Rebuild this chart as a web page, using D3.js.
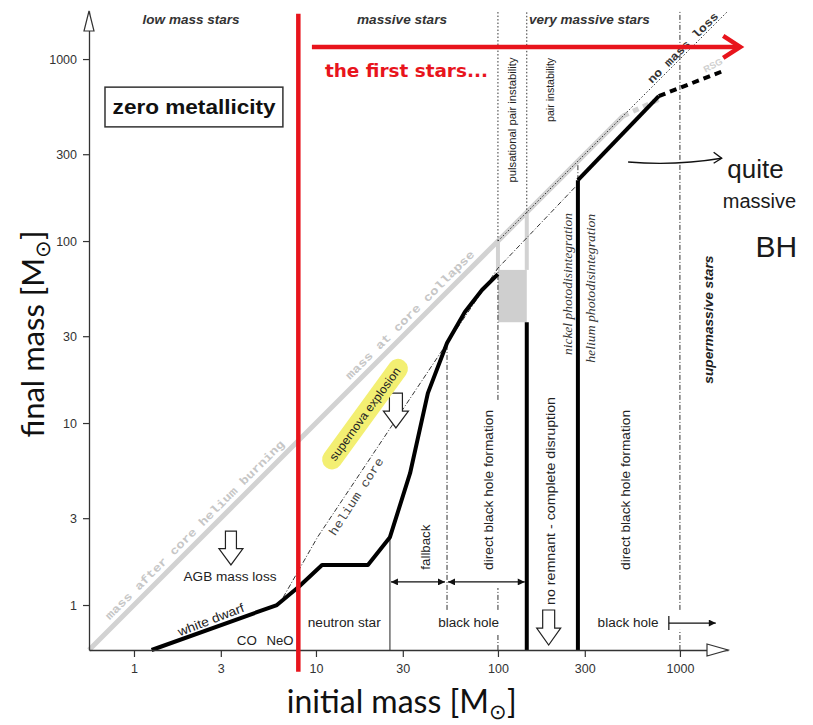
<!doctype html>
<html>
<head>
<meta charset="utf-8">
<title>final mass vs initial mass</title>
<script src="https://cdn.jsdelivr.net/npm/d3@7"></script>
<style>
  body { margin: 0; background: #fff; }
</style>
</head>
<body>
<script>
// ticks (solar masses)
const xTicks = [1, 3, 10, 30, 100, 300, 1000];
const yTicks = [1, 3, 10, 30, 100, 300, 1000];

// final remnant mass vs initial mass (thick black)
const remnantInit  = [1.25, 6.1, 8.05, 10.8, 19.3, 25.5, 32.9, 41.2, 52.5, 65.8, 81.7, 100];
const remnantFinal = [0.566, 1.0, 1.26, 1.66, 1.66, 2.36, 5.3, 14.6, 27.5, 40.7, 53.8, 65.8];
const bhInit  = [275, 765];
const bhFinal = [216, 626];
const bhDashInit  = [765, 1780];
const bhDashFinal = [626, 870];

// collapse walls of the pair instability gap
const wallInit = [144, 275];
const wallTop  = [35.8, 216];

// helium core mass (dash dot)
const heliumInit  = [6.6, 8.17, 10.2, 52.5, 100, 272];
const heliumFinal = [1.1, 1.6, 2.36, 27.5, 71, 203];

// mass at core collapse (light grey)
const collapseInit  = [0.566, 487];
const collapseFinal = [0.566, 487];
const rsgInit  = [487, 765];
const rsgFinal = [487, 600];

// pulsational pair instability box
const gapInit  = [100, 144];
const gapFinal = [35.8, 69.4];

// guides: [initial mass, from, to]
const dashDotGuides = [
  [52.5, 0.94, 27.5],
  [100, 13.4, 69.4],
  [100, 0.94, 1.24],
  [100, 0.566, 0.70],
  [275, 216, 268],
  [1000, 0.94, 1836],
  [1000, 0.566, 0.73]
];
const dottedGuides = [[100, 100, 1836], [144, 142, 1836]];
const greyDrops = [[100, 69.4, 100], [144, 69.4, 142]];

const firstStarsMass = 8;

const W = 813, H = 725;
const svg = d3.select("body").append("svg")
  .attr("width", W).attr("height", H)
  .style("font-family", "'Liberation Sans', Arial, sans-serif");

const x = d3.scaleLog().domain([0.566, 1837]).range([89, 728]);
const y = d3.scaleLog().domain([0.566, 1837]).range([650, 11]);

const line = d3.line().x(d => x(d[0])).y(d => y(d[1]));
const zip = (a, b) => a.map((v, i) => [v, b[i]]);

const plot = svg.append("g");

// grey box + grey track
plot.append("rect")
  .attr("x", x(gapInit[0])).attr("width", x(gapInit[1]) - x(gapInit[0]))
  .attr("y", y(gapFinal[1])).attr("height", y(gapFinal[0]) - y(gapFinal[1]))
  .attr("fill", "#cfcfcf");

plot.append("path").attr("d", line(zip(collapseInit, collapseFinal)))
  .attr("stroke", "#d2d2d2").attr("stroke-width", 5).attr("fill", "none");
plot.append("path").attr("d", line(zip(rsgInit, rsgFinal)))
  .attr("stroke", "#d2d2d2").attr("stroke-width", 5).attr("fill", "none")
  .attr("stroke-dasharray", "6,5");
greyDrops.forEach(g => {
  plot.append("line").attr("x1", x(g[0])).attr("x2", x(g[0]))
    .attr("y1", y(g[1])).attr("y2", y(g[2]))
    .attr("stroke", "#d2d2d2").attr("stroke-width", 4);
});

// guides
dashDotGuides.forEach(g => {
  plot.append("line").attr("x1", x(g[0])).attr("x2", x(g[0]))
    .attr("y1", y(g[1])).attr("y2", y(g[2]))
    .attr("stroke", "#333").attr("stroke-width", 1)
    .attr("stroke-dasharray", "5,2,1,2");
});
dottedGuides.forEach(g => {
  plot.append("line").attr("x1", x(g[0])).attr("x2", x(g[0]))
    .attr("y1", y(g[1])).attr("y2", y(g[2]))
    .attr("stroke", "#333").attr("stroke-width", 1)
    .attr("stroke-dasharray", "1.5,2");
});
// no mass loss diagonal
plot.append("path").attr("d", line([[100, 100], [1836, 1836]]))
  .attr("stroke", "#333").attr("stroke-width", 1).attr("fill", "none")
  .attr("stroke-dasharray", "1.5,2");

// helium core
plot.append("path").attr("d", line(zip(heliumInit, heliumFinal)))
  .attr("stroke", "#333").attr("stroke-width", 1).attr("fill", "none")
  .attr("stroke-dasharray", "5,2,1,2");

// fallback start line
plot.append("line").attr("x1", x(25.5)).attr("x2", x(25.5))
  .attr("y1", y(0.566)).attr("y2", y(2.36))
  .attr("stroke", "#222").attr("stroke-width", 1);

// remnant
plot.append("path").attr("d", line(zip(remnantInit, remnantFinal)))
  .attr("stroke", "#000").attr("stroke-width", 4).attr("fill", "none")
  .attr("stroke-linejoin", "round");
plot.append("path").attr("d", line(zip(bhInit, bhFinal)))
  .attr("stroke", "#000").attr("stroke-width", 4).attr("fill", "none");
plot.append("path").attr("d", line(zip(bhDashInit, bhDashFinal)))
  .attr("stroke", "#000").attr("stroke-width", 4).attr("fill", "none")
  .attr("stroke-dasharray", "7,5");
wallInit.forEach((m, i) => {
  plot.append("line").attr("x1", x(m)).attr("x2", x(m))
    .attr("y1", y(0.566)).attr("y2", y(wallTop[i]))
    .attr("stroke", "#000").attr("stroke-width", 4);
});

// arrow markers
const defs = svg.append("defs");
defs.append("marker").attr("id", "tri")
  .attr("viewBox", "0 0 10 10").attr("refX", 10).attr("refY", 5)
  .attr("markerWidth", 9).attr("markerHeight", 7).attr("markerUnits", "userSpaceOnUse")
  .attr("orient", "auto-start-reverse")
  .append("path").attr("d", "M0,0L10,5L0,10Z").attr("fill", "#111");

[[25.5, 52.5], [52.5, 144]].forEach(s => {
  plot.append("line").attr("x1", x(s[0]) + 1).attr("x2", x(s[1]) - 2)
    .attr("y1", y(1.34)).attr("y2", y(1.34))
    .attr("stroke", "#111").attr("stroke-width", 1.2)
    .attr("marker-start", "url(#tri)").attr("marker-end", "url(#tri)");
});
plot.append("line").attr("x1", x(869)).attr("x2", x(1574))
  .attr("y1", y(0.796)).attr("y2", y(0.796))
  .attr("stroke", "#111").attr("stroke-width", 1.2)
  .attr("marker-end", "url(#tri)");
plot.append("line").attr("x1", x(869)).attr("x2", x(869))
  .attr("y1", y(0.796) - 7).attr("y2", y(0.796) + 7)
  .attr("stroke", "#111").attr("stroke-width", 1.2);

// hollow down arrows
function hollowArrow(m, fTop, fTip, shaft, head) {
  const cx = x(m), t = y(fTop), b = y(fTip), k = t + (b - t) * 0.52;
  plot.append("path")
    .attr("d", `M${cx - shaft},${t}H${cx + shaft}V${k}H${cx + head}L${cx},${b}L${cx - head},${k}H${cx - shaft}Z`)
    .attr("fill", "#fff").attr("stroke", "#222").attr("stroke-width", 1.2);
}
hollowArrow(3.41, 2.55, 1.66, 5.5, 12);
hollowArrow(27.5, 14.6, 9.4, 6.5, 12.5);
hollowArrow(190, 0.939, 0.603, 6, 12);

// axes
const xAxis = svg.append("g").attr("transform", `translate(0,${y.range()[0]})`)
  .call(d3.axisBottom(x).tickValues(xTicks).tickFormat(d3.format("d"))
    .tickSize(7).tickPadding(7).tickSizeOuter(0));
const yAxis = svg.append("g").attr("transform", `translate(${x.range()[0]},0)`)
  .call(d3.axisLeft(y).tickValues(yTicks).tickFormat(d3.format("d"))
    .tickSize(6).tickPadding(6).tickSizeOuter(0));
[xAxis, yAxis].forEach(a => {
  a.select(".domain").attr("stroke", "#333").attr("stroke-width", 1.3);
  a.selectAll(".tick line").attr("stroke", "#333").attr("stroke-width", 1.2);
  a.selectAll(".tick text").attr("fill", "#333").style("font-size", "12.5px")
    .style("font-family", "'Liberation Sans', Arial, sans-serif");
});
const xb = y.range()[0], xr = x.range()[1], yl = x.range()[0], yt = y.range()[1];
svg.append("path").attr("d", `M${xr - 21},${xb - 6}L${xr},${xb}L${xr - 21},${xb + 6}Z`)
  .attr("fill", "#fff").attr("stroke", "#333").attr("stroke-width", 1.2);
svg.append("path").attr("d", `M${yl - 5},${yt + 20}L${yl},${yt}L${yl + 5},${yt + 20}Z`)
  .attr("fill", "#fff").attr("stroke", "#333").attr("stroke-width", 1.2);

// text helper
function label(txt, m, f, o) {
  o = o || {};
  const t = svg.append("text")
    .attr("transform", `translate(${x(m)},${y(f)}) rotate(${o.rot || 0})`)
    .attr("text-anchor", "middle").attr("dominant-baseline", "central")
    .attr("fill", o.fill || "#222")
    .style("font-size", (o.size || 12) + "px")
    .style("font-family", o.family || "'Liberation Sans', Arial, sans-serif")
    .style("font-weight", o.weight || "normal")
    .style("font-style", o.style || "normal")
    .text(txt);
  if (o.len) t.attr("textLength", o.len).attr("lengthAdjust", "spacingAndGlyphs");
  return t;
}

// region headers
const regionLabels = ["low mass stars", "massive stars", "very massive stars"];
const regionCenters = [2.06, 29.7, 318];
const regionLens = [97, 90, 121];
regionLabels.forEach((r, i) => label(r, regionCenters[i], 1636,
  { size: 12, weight: "bold", style: "italic", len: regionLens[i], fill: "#333" }));

// vertical labels
const serif = "'Liberation Serif', 'Times New Roman', serif";
label("pulsational pair instability", 119.6, 463, { rot: -90, size: 11, len: 125 });
label("pair instability", 193, 677, { rot: -90, size: 11, len: 64 });
label("nickel photodisintegration", 241, 58, { rot: -90, size: 13, style: "italic", family: serif, len: 142, fill: "#333" });
label("helium photodisintegration", 324, 55, { rot: -90, size: 13, style: "italic", family: serif, len: 149, fill: "#333" });
label("supermassive stars", 1450, 37, { rot: -90, size: 12, weight: "bold", style: "italic", len: 128 });
label("direct black hole formation", 89.3, 4.29, { rot: -90, size: 12, len: 160 });
label("fallback", 40.2, 2.08, { rot: -90, size: 12, len: 45 });
label("no remnant  -  complete disruption", 195, 3.73, { rot: -90, size: 12, len: 208 });
label("direct black hole formation", 506, 4.29, { rot: -90, size: 12, len: 160 });

// bottom labels
label("neutron star", 14.3, 0.796, { size: 12.5, len: 73 });
label("black hole", 69, 0.796, { size: 12.5, len: 61 });
label("black hole", 519, 0.796, { size: 12.5, len: 61 });
label("CO", 4.17, 0.634, { size: 12.5, len: 20 });
label("NeO", 6.34, 0.634, { size: 12.5, len: 27 });
label("AGB mass loss", 3.37, 1.42, { size: 12.5, len: 93 });
label("white dwarf", 2.65, 0.827, { rot: -21, size: 12.5, len: 70 });

// supernova explosion highlight
const sn = svg.append("g")
  .attr("transform", `translate(${x(18.6)},${y(11.2)}) rotate(-54)`);
sn.append("rect").attr("x", -66).attr("y", -10).attr("width", 132).attr("height", 20)
  .attr("rx", 10).attr("fill", "#f3ef72");
label("supernova explosion", 18.6, 11.2, { rot: -54, size: 12, len: 112 });

const mono = "'Liberation Mono', 'DejaVu Sans Mono', monospace";
label("helium core", 16.8, 3.92, { rot: -57, size: 12, family: mono, len: 90, fill: "#444" });
label("mass after core helium burning", 2.16, 2.58, { rot: -45, size: 11.5, family: mono, weight: "bold", len: 248, fill: "#c6c6c6" });
label("mass at core collapse", 32.9, 39.2, { rot: -45, size: 11.5, family: mono, weight: "bold", len: 177, fill: "#c6c6c6" });
label("no mass loss", 1040, 1150, { rot: -45, size: 11.5, family: mono, weight: "bold", len: 95, fill: "#333" });
label("RSG", 1520, 924, { rot: -28, size: 9, weight: "bold", len: 20, fill: "#cfcfcf" });

// zero metallicity box
svg.append("rect")
  .attr("x", x(0.693)).attr("y", y(701))
  .attr("width", x(6.58) - x(0.693)).attr("height", y(424) - y(701))
  .attr("fill", "#fff").attr("stroke", "#333").attr("stroke-width", 1.5);
label("zero metallicity", 2.14, 546, { size: 20, weight: "bold", len: 163, fill: "#111" });

// first stars
const red = "#e8141c";
svg.append("line").attr("x1", x(firstStarsMass)).attr("x2", x(firstStarsMass))
  .attr("y1", y(1775)).attr("y2", y(0.43))
  .attr("stroke", red).attr("stroke-width", 4.5);
const ay = y(1166), ax0 = x(9.5), ax1 = x(2144);
svg.append("line").attr("x1", ax0).attr("x2", ax1 - 2).attr("y1", ay).attr("y2", ay)
  .attr("stroke", red).attr("stroke-width", 4.5);
svg.append("path").attr("d", `M${ax1 - 17},${ay - 11}L${ax1},${ay}L${ax1 - 17},${ay + 11}`)
  .attr("stroke", red).attr("stroke-width", 4.5).attr("fill", "none")
  .attr("stroke-linejoin", "miter");
svg.append("text").attr("x", x(11.2)).attr("y", y(796))
  .attr("fill", red).style("font-size", "18px").style("font-weight", "bold")
  .style("font-family", "'DejaVu Sans', Verdana, sans-serif")
  .attr("textLength", 163).attr("lengthAdjust", "spacingAndGlyphs")
  .text("the first stars...");

// handwritten note
const hx0 = x(519), hy0 = y(272), hx1 = x(1695), hy1 = y(285);
svg.append("path")
  .attr("d", `M${hx0},${hy0}Q${(hx0 + hx1) / 2},${hy0 + 4} ${hx1},${hy1}`)
  .attr("stroke", "#111").attr("stroke-width", 1.4).attr("fill", "none");
svg.append("path")
  .attr("d", `M${hx1 - 8},${hy1 - 6}L${hx1},${hy1}L${hx1 - 8},${hy1 + 5}`)
  .attr("stroke", "#111").attr("stroke-width", 1.4).attr("fill", "none");
const hand = "'Liberation Sans', Arial, sans-serif";
[["quite", 1820, 221, 26], ["massive", 1720, 151, 20], ["BH", 2600, 81.6, 30]].forEach(h => {
  svg.append("text").attr("x", x(h[1])).attr("y", y(h[2]))
    .attr("fill", "#1a1a1a").style("font-size", h[3] + "px")
    .style("font-family", hand)
    .text(h[0]);
});

// axis titles
const titleFont = "Lato, 'Open Sans', sans-serif";
const yt2 = svg.append("text")
  .attr("transform", `translate(44,334) rotate(-90)`)
  .attr("text-anchor", "middle").attr("fill", "#111")
  .style("font-size", "31px").style("font-family", titleFont);
yt2.append("tspan").text("final mass [M");
yt2.append("tspan").text("⊙").style("font-size", "21px").attr("dy", "6");
yt2.append("tspan").text("]").attr("dy", "-6");

const xt2 = svg.append("text")
  .attr("transform", `translate(${x(30) - 1},713)`)
  .attr("text-anchor", "middle").attr("fill", "#111")
  .style("font-size", "32px").style("font-family", titleFont);
xt2.append("tspan").text("initial mass [M");
xt2.append("tspan").text("⊙").style("font-size", "21px").attr("dy", "6");
xt2.append("tspan").text("]").attr("dy", "-6");
</script>
</body>
</html>
